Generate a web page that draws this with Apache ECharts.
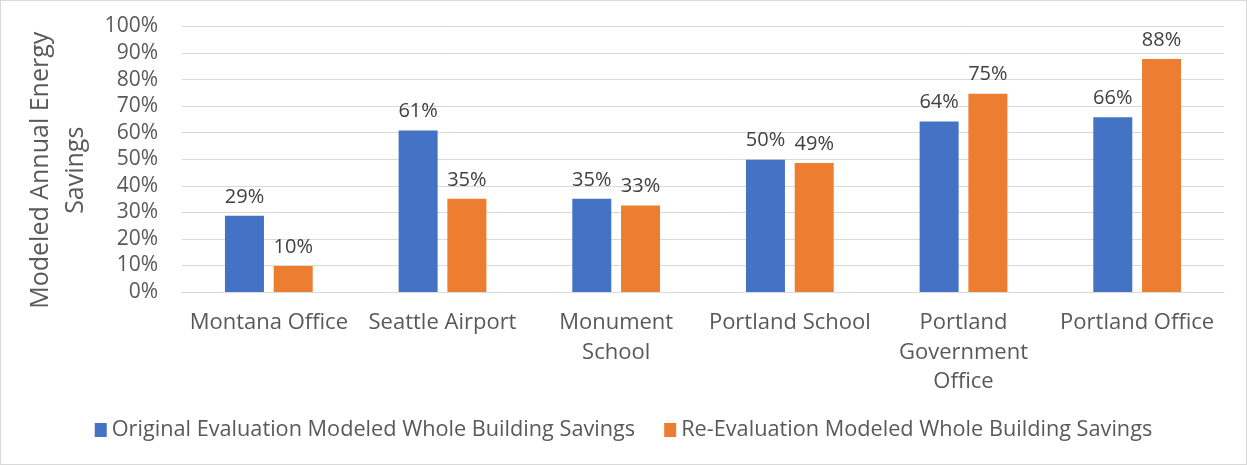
<!DOCTYPE html>
<html>
<head>
<meta charset="utf-8">
<script src="https://cdn.jsdelivr.net/npm/echarts@6/dist/echarts.min.js"></script>
<style>
  html, body { margin: 0; padding: 0; background: #fff; }
  #chart { width: 1245px; height: 463px; border: 1px solid #d9d9d9; }
</style>
</head>
<body>
<div id="chart"></div>
<script>
  // data
  const categories = ['Montana Office', 'Seattle Airport', 'Monument\nSchool', 'Portland School', 'Portland\nGovernment\nOffice', 'Portland Office']
  const originalSavings = [28.7, 60.8, 35.1, 49.8, 64.2, 65.8]
  const reEvalSavings = [9.8, 35.1, 32.6, 48.6, 74.7, 87.8]
  const seriesNames = ['Original Evaluation Modeled Whole Building Savings', 'Re-Evaluation Modeled Whole Building Savings']

  const font = '"Open Sans", "Liberation Sans", sans-serif'
  const textColor = '#595959'

  let myChart = echarts.init(document.getElementById('chart'))

  let barLabel = {
    show: true,
    position: 'top',
    distance: 9,
    color: '#404040',
    fontSize: 20,
    fontFamily: font,
    formatter: p => Math.round(p.value) + '%'
  }

  let option = {
    animation: false,
    textStyle: { fontFamily: font },
    grid: { left: 181, right: 22, top: 25.5, bottom: 172 },
    legend: {
      data: seriesNames,
      bottom: 18,
      itemWidth: 12,
      itemHeight: 14,
      itemGap: 29,
      icon: 'rect',
      textStyle: { color: textColor, fontSize: 21.7, fontFamily: font }
    },
    xAxis: {
      type: 'category',
      data: categories,
      axisLine: { lineStyle: { color: '#d9d9d9' } },
      axisTick: { show: false },
      axisLabel: { color: textColor, fontSize: 22, lineHeight: 29.5, margin: 16, interval: 0, fontFamily: font }
    },
    yAxis: {
      type: 'value',
      min: 0,
      max: 100,
      interval: 10,
      name: 'Modeled Annual Energy\nSavings',
      nameLocation: 'middle',
      nameGap: 84,
      nameTextStyle: { color: textColor, fontSize: 25, lineHeight: 35, padding: [0, 22, 0, 0], fontFamily: font },
      axisLabel: { color: textColor, fontSize: 21, margin: 24, formatter: '{value}%', fontFamily: font },
      splitLine: { lineStyle: { color: '#d9d9d9' } }
    },
    series: [
      {
        name: seriesNames[0],
        type: 'bar',
        data: originalSavings,
        barWidth: 39,
        barGap: '25%',
        itemStyle: { color: '#4472C4' },
        label: barLabel
      },
      {
        name: seriesNames[1],
        type: 'bar',
        data: reEvalSavings,
        barWidth: 39,
        barGap: '25%',
        itemStyle: { color: '#ED7D31' },
        label: barLabel
      }
    ]
  }
  myChart.setOption(option)
</script>
</body>
</html>
